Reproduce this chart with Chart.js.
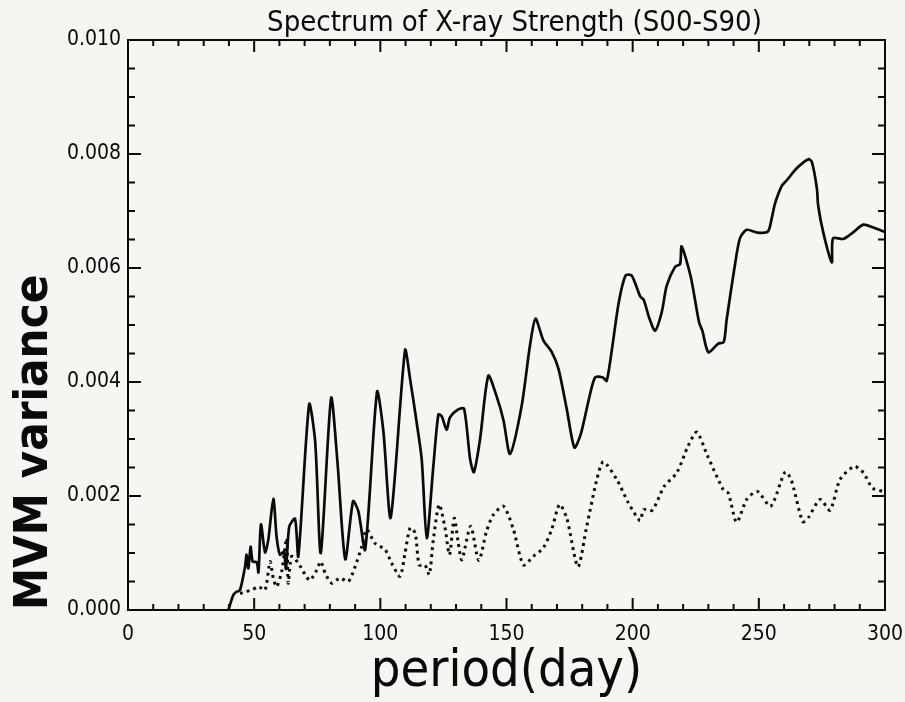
<!DOCTYPE html>
<html>
<head>
<meta charset="utf-8">
<script src="https://cdn.jsdelivr.net/npm/chart.js@4.4.1/dist/chart.umd.min.js"></script>
<style>
  html, body { margin: 0; padding: 0; background: #f6f5f1; }
  canvas { display: block; }
</style>
</head>
<body>
<canvas id="spectrum" width="905" height="702"></canvas>
<script>
// Period (days) and MVM variance for the solid spectrum
const periodSolid = [
  39.8, 41.7, 43.0, 44.4, 46.4, 47.0, 47.7, 48.6, 49.4, 51.0, 51.7, 52.7, 54.3, 55.6, 57.6,
  58.9, 60.2, 61.8, 62.6, 63.9, 66.2, 67.5, 71.8, 74.2, 76.4, 80.5, 83.0, 86.1, 89.2, 91.3,
  94.0, 98.7, 101.2, 104.1, 109.8, 111.8, 114.4, 116.4, 118.4, 121.0, 123.0, 124.3, 126.3, 127.6, 130.9,
  133.2, 135.6, 137.1, 139.5, 142.8, 146.0, 148.8, 151.4, 156.0, 159.3, 161.5, 164.6, 167.9, 170.6, 173.9,
  176.9, 179.4, 182.5, 185.1, 188.2, 189.7, 191.8, 194.5, 197.2, 199.6, 203.0, 204.4, 206.6, 208.9, 211.5,
  213.5, 216.8, 218.8, 219.4, 223.0, 226.3, 227.6, 230.0, 233.8, 236.1, 237.2, 240.3, 242.5, 245.2, 249.5,
  253.6, 255.1, 256.4, 259.1, 261.1, 265.0, 269.6, 271.0, 273.0, 273.5, 275.5, 278.9, 279.4, 283.5, 287.5,
  291.4, 295.4, 300.0
];
const varianceSolid = [
  0.00000, 0.00026, 0.00032, 0.00035, 0.00076, 0.00097, 0.00073, 0.00111, 0.00085, 0.00084, 0.00066, 0.00150, 0.00101, 0.00123, 0.00195,
  0.00128, 0.00097, 0.00102, 0.00072, 0.00146, 0.00160, 0.00094, 0.00361, 0.00294, 0.00100, 0.00372, 0.00260, 0.00089, 0.00191, 0.00173,
  0.00106, 0.00383, 0.00314, 0.00162, 0.00456, 0.00405, 0.00329, 0.00264, 0.00126, 0.00252, 0.00343, 0.00340, 0.00316, 0.00338, 0.00352,
  0.00353, 0.00264, 0.00242, 0.00299, 0.00411, 0.00376, 0.00333, 0.00274, 0.00358, 0.00464, 0.00511, 0.00473, 0.00453, 0.00423, 0.00352,
  0.00285, 0.00308, 0.00367, 0.00408, 0.00408, 0.00402, 0.00458, 0.00540, 0.00587, 0.00587, 0.00550, 0.00544, 0.00512, 0.00490, 0.00522,
  0.00569, 0.00602, 0.00607, 0.00638, 0.00585, 0.00505, 0.00490, 0.00452, 0.00467, 0.00470, 0.00508, 0.00599, 0.00652, 0.00667, 0.00662,
  0.00664, 0.00687, 0.00713, 0.00744, 0.00754, 0.00775, 0.00791, 0.00786, 0.00740, 0.00710, 0.00663, 0.00610, 0.00652, 0.00651, 0.00663,
  0.00676, 0.00671, 0.00663
];

// Period (days) and MVM variance for the dotted spectrum
const periodDotted = [
  44.4, 46.4, 49.0, 51.7, 54.3, 56.3, 57.6, 58.9, 60.9, 62.9, 63.5, 64.8, 67.5, 70.2, 72.1,
  74.8, 76.4, 78.1, 80.7, 84.0, 87.3, 90.0, 92.6, 94.6, 97.9, 101.9, 104.5, 107.8, 109.8, 111.8,
  113.8, 115.4, 117.7, 119.4, 121.0, 123.3, 125.6, 127.4, 129.3, 130.9, 132.3, 135.8, 139.0, 142.2, 144.8,
  148.8, 152.7, 156.7, 160.6, 164.6, 167.9, 171.0, 173.9, 178.3, 181.8, 185.8, 188.4, 193.7, 198.3, 202.9,
  204.4, 207.8, 212.5, 217.5, 222.0, 225.4, 229.5, 235.9, 237.9, 241.2, 245.2, 249.4, 254.7, 260.4, 262.8,
  267.4, 269.6, 274.3, 278.2, 282.2, 287.8, 291.4, 295.0, 299.4
];
const varianceDotted = [
  0.00029, 0.00032, 0.00035, 0.00041, 0.00035, 0.00085, 0.00055, 0.00041, 0.00067, 0.00126, 0.00047, 0.00094, 0.00082, 0.00062, 0.00052,
  0.00070, 0.00085, 0.00065, 0.00047, 0.00056, 0.00050, 0.00076, 0.00111, 0.00141, 0.00117, 0.00106, 0.00082, 0.00059, 0.00100, 0.00144,
  0.00135, 0.00079, 0.00079, 0.00062, 0.00123, 0.00185, 0.00145, 0.00097, 0.00161, 0.00117, 0.00088, 0.00147, 0.00087, 0.00140, 0.00167,
  0.00182, 0.00142, 0.00079, 0.00094, 0.00109, 0.00141, 0.00185, 0.00161, 0.00076, 0.00147, 0.00229, 0.00260, 0.00229, 0.00188, 0.00157,
  0.00176, 0.00175, 0.00217, 0.00241, 0.00288, 0.00312, 0.00272, 0.00211, 0.00205, 0.00154, 0.00194, 0.00208, 0.00182, 0.00242, 0.00229,
  0.00155, 0.00162, 0.00194, 0.00175, 0.00229, 0.00252, 0.00241, 0.00214, 0.00208
];

// Axis ranges and tick spacing
const periodRange = [0, 300];
const varianceRange = [0, 0.010];
const periodMajorStep = 50;
const periodMinorStep = 10;
const varianceMajorStep = 0.002;
const varianceMinorStep = 0.0005;

const titleText = 'Spectrum of X-ray Strength (S00-S90)';
const xTitleText = 'period(day)';
const yTitleText = 'MVM variance';

const narrowFont = "'Liberation Sans Narrow', 'DejaVu Sans Condensed', 'Arial Narrow', sans-serif";
const ink = '#0a0a0a';

const toPoints = (xs, ys) => xs.map((x, i) => ({ x, y: ys[i] }));

// Paper-coloured background
const paper = {
  id: 'paper',
  beforeDraw(chart) {
    const { ctx, width, height } = chart;
    ctx.save();
    ctx.fillStyle = '#f6f5f1';
    ctx.fillRect(0, 0, width, height);
    ctx.restore();
  }
};

// Boxed frame with inward ticks on all four sides, plus the heading
const frame = {
  id: 'frame',
  afterDraw(chart) {
    const { ctx, chartArea: a, scales: { x, y } } = chart;
    ctx.save();
    ctx.strokeStyle = ink;
    ctx.lineWidth = 2;
    ctx.strokeRect(a.left, a.top, a.right - a.left, a.bottom - a.top);

    ctx.beginPath();
    const nx = Math.round((periodRange[1] - periodRange[0]) / periodMinorStep);
    for (let i = 0; i <= nx; i++) {
      const d = periodRange[0] + i * periodMinorStep;
      const px = x.getPixelForValue(d);
      const len = (d % periodMajorStep === 0) ? 12 : 6;
      ctx.moveTo(px, a.bottom); ctx.lineTo(px, a.bottom - len);
      ctx.moveTo(px, a.top); ctx.lineTo(px, a.top + len);
    }
    const ny = Math.round((varianceRange[1] - varianceRange[0]) / varianceMinorStep);
    const perMajor = Math.round(varianceMajorStep / varianceMinorStep);
    for (let i = 0; i <= ny; i++) {
      const v = varianceRange[0] + i * varianceMinorStep;
      const py = y.getPixelForValue(v);
      const len = (i % perMajor === 0) ? 13 : 7;
      ctx.moveTo(a.left, py); ctx.lineTo(a.left + len, py);
      ctx.moveTo(a.right, py); ctx.lineTo(a.right - len, py);
    }
    ctx.stroke();

    ctx.fillStyle = ink;
    ctx.font = `29px ${narrowFont}`;
    ctx.textAlign = 'center';
    ctx.textBaseline = 'alphabetic';
    ctx.fillText(titleText, (a.left + a.right) / 2 + 8, 31);
    ctx.restore();
  }
};

new Chart(document.getElementById('spectrum'), {
  type: 'line',
  data: {
    datasets: [
      {
        label: 'solid',
        data: toPoints(periodSolid, varianceSolid),
        borderColor: ink,
        borderWidth: 2.7,
        pointRadius: 0,
        tension: 0.25,
        fill: false
      },
      {
        label: 'dotted',
        data: toPoints(periodDotted, varianceDotted),
        borderColor: ink,
        borderWidth: 3,
        borderDash: [2.8, 4.2],
        pointRadius: 0,
        tension: 0.25,
        fill: false
      }
    ]
  },
  options: {
    responsive: false,
    animation: false,
    layout: { padding: { left: 0, right: 20, top: 40, bottom: 0 } },
    plugins: {
      legend: { display: false },
      tooltip: { enabled: false },
      title: { display: false }
    },
    scales: {
      x: {
        type: 'linear',
        min: periodRange[0],
        max: periodRange[1],
        grid: { display: false, drawTicks: false },
        border: { display: false },
        ticks: {
          stepSize: periodMajorStep,
          padding: 12,
          color: ink,
          maxRotation: 0,
          font: { family: narrowFont, size: 21 }
        },
        title: {
          display: true,
          text: xTitleText,
          color: ink,
          padding: { top: 0, bottom: 4 },
          font: { family: narrowFont, size: 52, lineHeight: 1 }
        },
        afterFit(scale) {
          scale.height = 92;
          scale.paddingLeft = 0;
          scale.paddingRight = 0;
        }
      },
      y: {
        type: 'linear',
        min: varianceRange[0],
        max: varianceRange[1],
        grid: { display: false, drawTicks: false },
        border: { display: false },
        ticks: {
          stepSize: varianceMajorStep,
          padding: 7,
          color: ink,
          font: { family: narrowFont, size: 21 },
          callback: v => v.toFixed(3)
        },
        title: {
          display: true,
          text: yTitleText,
          align: 'start',
          color: ink,
          padding: { top: 11, bottom: 0 },
          font: { family: narrowFont, size: 47, weight: 'bold', lineHeight: 1 }
        },
        afterFit(scale) {
          scale.width = 128;
          scale.paddingTop = 0;
          scale.paddingBottom = 0;
        }
      }
    }
  },
  plugins: [paper, frame]
});
</script>
</body>
</html>
